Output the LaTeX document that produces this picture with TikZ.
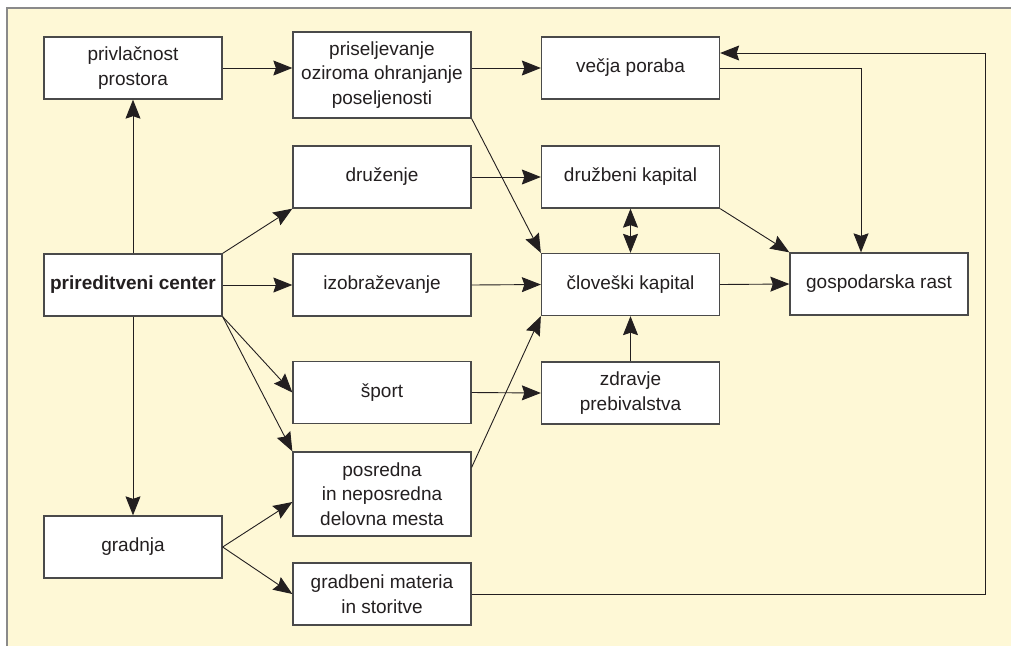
\documentclass[tikz,border=0pt]{standalone}
\usepackage{fontspec}
\setmainfont{Liberation Sans}
\usetikzlibrary{arrows.meta,calc}
\definecolor{panel}{HTML}{FEF8D6}
\definecolor{frameline}{HTML}{8A8A8A}
\definecolor{ink}{HTML}{231F20}
\definecolor{boxline}{HTML}{4A4A4A}
\begin{document}
\begin{tikzpicture}[x=1pt,y=-1pt,
  tip/.style={Stealth[length=19pt,width=15pt,inset=2.5pt]},
  box/.style={draw=boxline,line width=1.3pt,fill=white,inner sep=0pt,
    minimum width=178pt,minimum height=62pt,align=center,text=ink,
    font=\fontsize{19}{24.5}\selectfont},
  tall/.style={minimum height=86pt},
  link/.style={draw=ink,line width=0.9pt,-{Stealth[length=19pt,width=15pt,inset=2.5pt]}},
  both/.style={draw=ink,line width=0.9pt,{Stealth[length=19pt,width=15pt,inset=2.5pt]}-{Stealth[length=19pt,width=15pt,inset=2.5pt]}}]
\useasboundingbox (0,0) rectangle (1011,646);
% panel background and its frame
\fill[panel] (7,8) rectangle (1011,646);
\draw[frameline,line width=2pt] (7,646) -- (7,8) -- (1011,8);

% boxes
\node[box] (priv) at (133,68) {privlačnost\\prostora};
\node[box,tall] (pris) at (382,75) {priseljevanje\\oziroma ohranjanje\\poseljenosti};
\node[box] (vecja) at (630.5,68) {večja poraba};
\node[box] (druz) at (382,177) {druženje};
\node[box] (dk) at (630.5,177) {družbeni kapital};
\node[box] (pc) at (133,285) {\bfseries prireditveni center};
\node[box] (izo) at (382,285) {izobraževanje};
\node[box] (ck) at (630.5,284.5) {človeški kapital};
\node[box] (gr) at (879,284) {gospodarska rast};
\node[box] (sport) at (382,392.5) {šport};
\node[box] (zdr) at (630.5,393) {zdravje\\prebivalstva};
\node[box,minimum height=84pt] (pos) at (382,494) {posredna\\in neposredna\\delovna mesta};
\node[box] (grad) at (133,547) {gradnja};
\node[box] (gm) at (382,594) {gradbeni materia\\in storitve};

\coordinate (fbx) at (985,0);

% connectors
\draw[link] (priv.east) -- (priv.east -| pris.west);
\draw[link] (pris.east |- vecja.west) -- (vecja.west);
\draw[link] (pris.south east) -- (ck.north west);
\draw[link] (druz.east) -- (dk.west);
\draw[both] (dk.south) -- (ck.north);
\draw[link] (dk.south east) -- (gr.north west);
\draw[link] (vecja.east) -| ([xshift=-18pt]gr.north);
\draw[link] (pc.north) -- (priv.south);
\draw[link] (pc.south) -- (grad.north);
\draw[link] (pc.north east) -- (druz.south west);
\draw[link] (pc.east) -- (izo.west);
\draw[link] (pc.south east) -- (sport.west);
\draw[link] (pc.south east) -- (pos.north west);
\draw[link] (izo.east) -- (ck.west);
\draw[link] (ck.east) -- (gr.west);
\draw[link] (sport.east) -- (zdr.west);
\draw[link] (zdr.north) -- (ck.south);
\draw[link] ([yshift=-16pt]pos.north east) -- (ck.south west);
\draw[link] (grad.east) -- ([yshift=-8pt]pos.west);
\draw[link] (grad.east) -- (gm.west);
\draw[link] (gm.east) -- (gm.east -| fbx) |- ([yshift=15pt]vecja.east);
\end{tikzpicture}
\end{document}
